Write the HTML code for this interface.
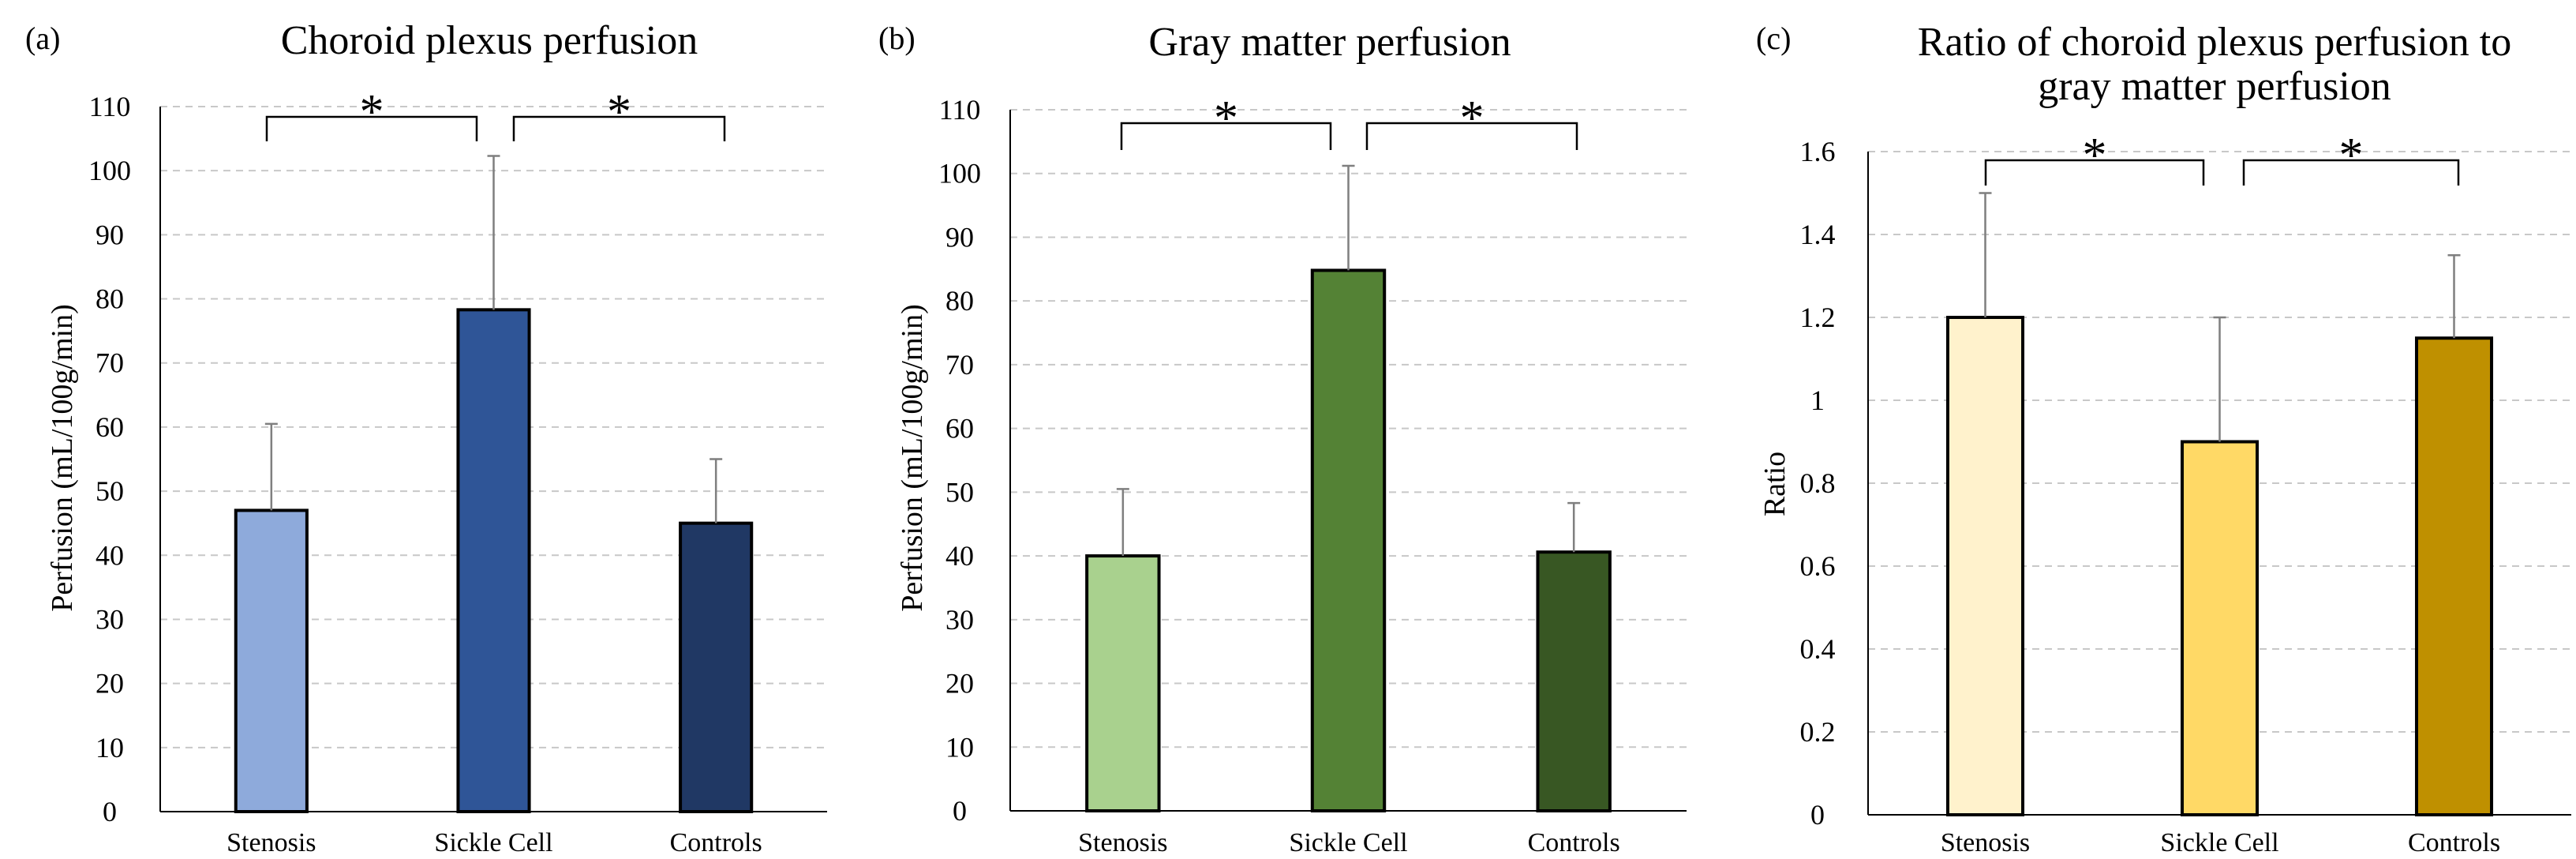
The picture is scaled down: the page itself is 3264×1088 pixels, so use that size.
<!DOCTYPE html>
<html><head><meta charset="utf-8"><style>
html,body{margin:0;padding:0;background:#fff;}
svg{display:block;font-family:"Liberation Serif",serif;}
</style></head><body>
<svg id="chart" width="3264" height="1088" viewBox="0 0 3264 1088" xmlns="http://www.w3.org/2000/svg"></svg>
<script>
const categories = ["Stenosis", "Sickle Cell", "Controls"];
const perfCP = [47, 78.3, 45];
const perfCPErr = [13.5, 24, 10];
const perfGM = [40, 84.8, 40.6];
const perfGMErr = [10.5, 16.4, 7.7];
const ratioVals = [1.2, 0.9, 1.15];
const ratioErr = [0.3, 0.3, 0.2];
const ticksPerf = [0,10,20,30,40,50,60,70,80,90,100,110];
const ticksRatio = [0,0.2,0.4,0.6,0.8,1,1.2,1.4,1.6];

const NS = "http://www.w3.org/2000/svg";
const svg = document.getElementById('chart');
function mk(tag, attrs, parent, text) {
  const e = document.createElementNS(NS, tag);
  for (const k in attrs) e.setAttribute(k, attrs[k]);
  if (text !== undefined) e.textContent = text;
  (parent || svg).appendChild(e);
  return e;
}

const panels = [
  {id:'a', letter:'(a)', lx:32, title:['Choroid plexus perfusion'], tx:620, ty:[68],
   x0:203, x1:1048, yTop:135, yBot:1028, max:110, ticks:ticksPerf, vals:perfCP, errs:perfCPErr,
   colors:['#8eaadb','#2f5597','#203864'], ytitle:'Perfusion  (mL/100g/min)', ytx:78, yty:580,
   brY:148, brBot:179, br:[[338,604],[651,918]], starY:148},
  {id:'b', letter:'(b)', lx:1113, title:['Gray matter perfusion'], tx:1685, ty:[70],
   x0:1280, x1:2137, yTop:139, yBot:1027, max:110, ticks:ticksPerf, vals:perfGM, errs:perfGMErr,
   colors:['#a9d18e','#548235','#385723'], ytitle:'Perfusion  (mL/100g/min)', ytx:1155, yty:580,
   brY:156, brBot:190, br:[[1421,1686],[1732,1998]], starY:156},
  {id:'c', letter:'(c)', lx:2225, title:['Ratio of choroid plexus perfusion to','gray matter perfusion'], tx:2806, ty:[70,126],
   x0:2367, x1:3258, yTop:192, yBot:1032, max:1.6, ticks:ticksRatio, vals:ratioVals, errs:ratioErr,
   colors:['#fff2cc','#ffd966','#bf9000'], ytitle:'Ratio', ytx:2248, yty:613,
   brY:203, brBot:235, br:[[2516,2792],[2843,3115]], starY:203}
];

panels.forEach(p => {
  const g = mk('g', {});
  
  
  const y = v => p.yBot - (v / p.max) * (p.yBot - p.yTop);
  const band = (p.x1 - p.x0) / categories.length;
  const cx = i => p.x0 + band * (i + 0.5);
  const bw = band * 0.32;

  const lt = mk('text', {x:p.lx, y:62, 'font-size':40}, g, p.letter);
  
  

  p.title.forEach((t, k) => {
    const tt = mk('text', {x:p.tx, y:p.ty[k], 'font-size':52, 'text-anchor':'middle'}, g, t);
    
    
  });

  p.ticks.forEach(t => {
    if (t !== 0) {
      const gl = mk('line', {x1:p.x0, x2:p.x1, y1:y(t), y2:y(t), stroke:'#c8c8c8', 'stroke-width':2, 'stroke-dasharray':'9,7'}, g);
      
      
    }
    const tl = mk('text', {x:p.x0 - 64, y:y(t) + 12, 'font-size':36, 'text-anchor':'middle'}, g, String(t));
    
    
  });

  const ax = mk('line', {x1:p.x0, x2:p.x0, y1:p.yTop, y2:p.yBot, stroke:'#000', 'stroke-width':2}, g);
  
  

  categories.forEach((c, i) => {
    const v = p.vals[i];
    const bar = mk('rect', {x:cx(i) - bw/2, y:y(v), width:bw, height:p.yBot - y(v), fill:p.colors[i], stroke:'#000', 'stroke-width':4}, g);
    
    
    const top = y(v + p.errs[i]);
    const el = mk('path', {d:`M${cx(i)},${y(v)}V${top}M${cx(i)-8},${top}H${cx(i)+8}`, stroke:'#7f7f7f', 'stroke-width':2.5, fill:'none'}, g);
    
    
    const cl = mk('text', {x:cx(i), y:1078, 'font-size':34, 'text-anchor':'middle'}, g, c);
    
    
  });

  const xa = mk('line', {x1:p.x0, x2:p.x1, y1:p.yBot, y2:p.yBot, stroke:'#000', 'stroke-width':2}, g);
  
  

  const yt = mk('text', {x:p.ytx, y:p.yty, 'font-size':38, 'text-anchor':'middle', transform:`rotate(-90 ${p.ytx} ${p.yty})`, dy:'13'}, g, p.ytitle);
  
  

  p.br.forEach(b => {
    const br = mk('path', {d:`M${b[0]},${p.brBot}V${p.brY}H${b[1]}V${p.brBot}`, stroke:'#000', 'stroke-width':2.5, fill:'none'}, g);
    
    
    const st = mk('text', {x:(b[0]+b[1])/2, y:p.starY + 14, 'font-size':62, 'text-anchor':'middle'}, g, '*');
    
    
  });
});
</script>
</body></html>
